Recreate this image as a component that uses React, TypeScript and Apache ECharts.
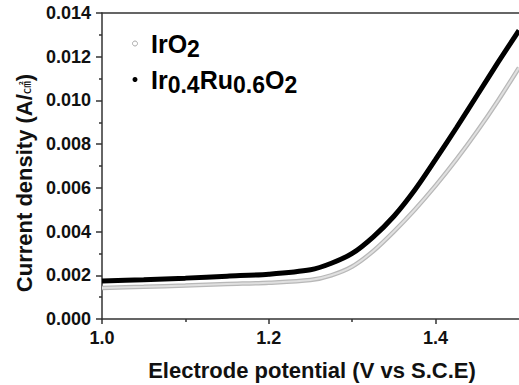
import React, { useEffect, useRef } from "react";
import * as echarts from "echarts";

const voltages = [1.0, 1.05, 1.1, 1.15, 1.2, 1.25, 1.275, 1.3, 1.325, 1.35, 1.375, 1.4, 1.425, 1.45, 1.475, 1.5];
const iro2Values = [0.00142, 0.00147, 0.00153, 0.0016, 0.00166, 0.00178, 0.002, 0.0024, 0.0031, 0.004, 0.005, 0.0061, 0.0073, 0.0086, 0.01, 0.0115];
const iruoValues = [0.00174, 0.0018, 0.00187, 0.00196, 0.00205, 0.00225, 0.00255, 0.003, 0.00375, 0.0047, 0.0059, 0.0073, 0.00875, 0.01025, 0.01175, 0.0132];
const xMajorTicks = [1.0, 1.2, 1.4];
const xMinorTicks = [1.1, 1.3];
const seriesNames = ["IrO2", "Ir0.4Ru0.6O2"];

const FONT = "'Liberation Sans', Arial, sans-serif";

export default function App() {
  const ref = useRef<HTMLDivElement>(null);
  useEffect(() => {
    if (!ref.current) return;
    const chart = echarts.init(ref.current, undefined, { renderer: "svg" });
    const iroData = voltages.map((v, i) => [v, iro2Values[i]]);
    const ruData = voltages.map((v, i) => [v, iruoValues[i]]);
    const axisColor = "#333";
    const baseX = {
      type: "value" as const,
      min: 1.0,
      max: 1.5,
      interval: 0.1,
      gridIndex: 0,
      splitLine: { show: false },
    };
    chart.setOption({
      animation: false,
      backgroundColor: "#fff",
      grid: { left: 102, top: 13, right: -1, bottom: 66, containLabel: false },
      xAxis: [
        {
          ...baseX,
          position: "bottom",
          axisLine: { show: true, onZero: false, lineStyle: { color: axisColor, width: 1.5 } },
          axisTick: { show: true, length: 5, customValues: xMajorTicks, lineStyle: { color: axisColor, width: 1.5 } },
          axisLabel: {
            show: true,
            customValues: xMajorTicks,
            margin: 10,
            fontSize: 18,
            fontWeight: "bold",
            fontFamily: FONT,
            color: "#111",
            formatter: (v: number) => v.toFixed(1),
          },
        },
        {
          ...baseX,
          position: "bottom",
          axisLine: { show: false },
          axisTick: { show: true, length: 3, customValues: xMinorTicks, lineStyle: { color: axisColor, width: 1.5 } },
          axisLabel: { show: false },
        },
        {
          ...baseX,
          position: "top",
          axisLine: { show: true, onZero: false, lineStyle: { color: axisColor, width: 1.5 } },
          axisTick: { show: false },
          axisLabel: { show: false },
        },
      ],
      yAxis: {
        type: "value",
        min: 0,
        max: 0.014,
        interval: 0.002,
        axisLine: { show: true, onZero: false, lineStyle: { color: axisColor, width: 1.5 } },
        axisTick: { show: true, length: 6, lineStyle: { color: axisColor, width: 1.5 } },
        minorTick: { show: true, splitNumber: 2, length: 3, lineStyle: { color: axisColor, width: 1.5 } },
        splitLine: { show: false },
        minorSplitLine: { show: false },
        axisLabel: {
          margin: 11,
          fontSize: 18,
          fontWeight: "bold",
          fontFamily: FONT,
          color: "#111",
          formatter: (v: number) => v.toFixed(3),
        },
      },
      legend: {
        orient: "vertical",
        left: 127,
        top: 26,
        itemWidth: 22,
        itemHeight: 5,
        itemGap: 7,
        selectedMode: false,
        data: [
          { name: seriesNames[0], icon: "circle", itemStyle: { color: "#fff", borderColor: "#aaa", borderWidth: 1 } },
          { name: seriesNames[1], icon: "circle", itemStyle: { color: "#000", borderWidth: 0 } },
        ],
        formatter: (name: string) =>
          name === "IrO2" ? "{a|IrO}{s|2}" : "{a|Ir}{s|0.4}{a|Ru}{s|0.6}{a|O}{s|2}",
        textStyle: {
          rich: {
            a: { fontSize: 25, fontWeight: "bold", fontFamily: FONT, color: "#000" },
            s: { fontSize: 23, fontWeight: "bold", fontFamily: FONT, color: "#000", padding: [10, 0, 0, 0] },
          },
        },
      },
      graphic: [
        {
          type: "text",
          x: 312,
          y: 370,
          style: {
            text: "Electrode potential (V vs S.C.E)",
            fontSize: 22,
            fontWeight: "bold",
            fontFamily: FONT,
            fill: "#111",
            align: "center",
            verticalAlign: "middle",
          },
        },
        {
          type: "text",
          x: 24,
          y: 183,
          rotation: Math.PI / 2,
          style: {
            text: "{m|Current density (A/}{u|㎠}{m|)}",
            align: "center",
            verticalAlign: "middle",
            rich: {
              m: { fontSize: 22, fontWeight: "bold", fontFamily: FONT, fill: "#111" },
              u: { fontSize: 13, fontFamily: "'Noto Sans CJK SC', sans-serif", fill: "#111" },
            },
          },
        },
      ],
      series: [
        {
          name: seriesNames[0],
          type: "line",
          data: iroData,
          smooth: 0.3,
          showSymbol: false,
          symbol: "circle",
          lineStyle: { color: "#b8b8b8", width: 4.5 },
          itemStyle: { color: "#b8b8b8" },
          z: 2,
        },
        {
          name: "IrO2-inner",
          type: "line",
          data: iroData,
          smooth: 0.3,
          showSymbol: false,
          lineStyle: { color: "#e0e0e0", width: 2 },
          z: 3,
        },
        {
          name: seriesNames[1],
          type: "line",
          data: ruData,
          smooth: 0.3,
          showSymbol: false,
          symbol: "circle",
          lineStyle: { color: "#000", width: 5 },
          itemStyle: { color: "#000" },
          z: 4,
        },
      ],
    });
    return () => chart.dispose();
  }, []);
  return <div ref={ref} style={{ position: "fixed", left: 0, top: 0, width: 519, height: 385 }} />;
}
